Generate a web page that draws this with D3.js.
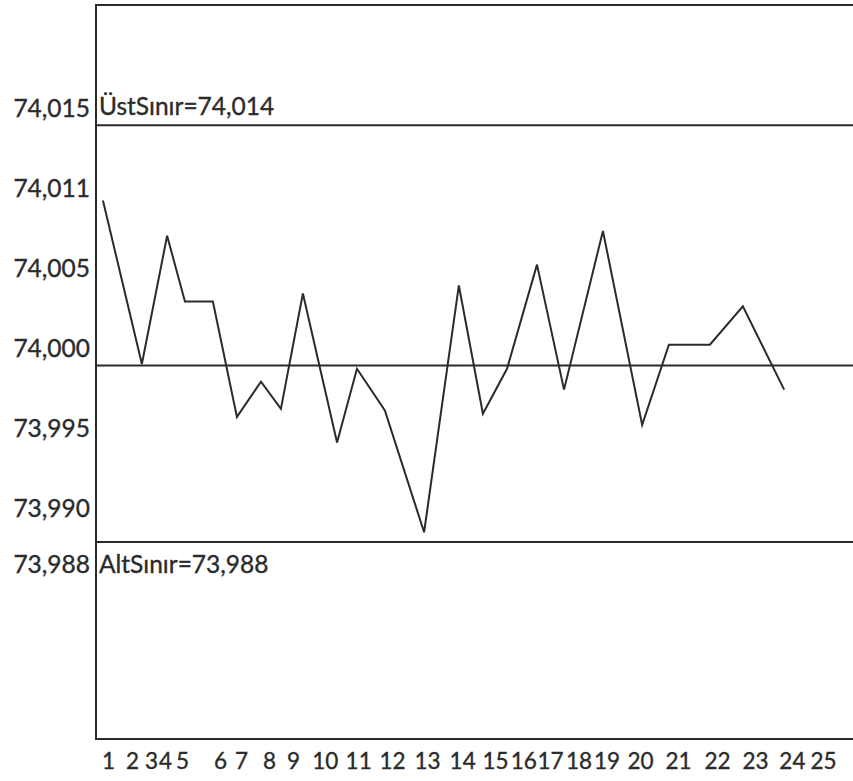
<!DOCTYPE html>
<html>
<head>
<meta charset="utf-8">
<script src="https://cdnjs.cloudflare.com/ajax/libs/d3/7.8.5/d3.min.js"></script>
<style>
  html, body { margin: 0; padding: 0; background: #fff; }
  svg { display: block; }
  text { font-family: Lato, "Open Sans", sans-serif; fill: #2b2b2b; stroke: #2b2b2b; stroke-width: 0.35px; }
</style>
</head>
<body>
<svg id="chart" width="853" height="781"></svg>
<script>
// Sample measurements (mm) in order of collection
const measurements = [
  74.0093, 73.9991, 74.0071, 74.0030, 74.0030, 73.9958, 73.9980, 73.9963,
  74.0035, 73.9942, 73.9988, 73.9962, 73.9886, 74.0040, 73.9960, 73.9988,
  74.0053, 73.9975, 74.0074, 73.9953, 74.0003, 74.0003, 74.0027, 73.9975
];
// Where each sample sits along the horizontal axis
const sampleAt = [
  0.83, 2.14, 2.99, 3.59, 4.53, 5.34, 6.15, 6.82,
  7.56, 8.71, 9.38, 10.32, 11.64, 12.81, 13.62, 14.43,
  15.44, 16.35, 17.66, 18.98, 19.88, 21.26, 22.37, 23.76
];

// Control limits
const upperLimit = 74.014;
const centerLine = 73.999;
const lowerLimit = 73.988;

// Axis labels
const xLabels = ["1","2","3","4","5","6","7","8","9","10","11","12","13",
                 "14","15","16","17","18","19","20","21","22","23","24","25"];
const xLabelAt = [
  1.00, 1.81, 2.45, 2.92, 3.49, 4.77, 5.48, 6.42, 7.23, 8.30, 9.42, 10.56, 11.74,
  12.92, 14.03, 14.98, 15.88, 16.84, 17.78, 18.91, 20.19, 21.50, 22.78, 24.02, 25.07
];
const yTicks = [74.015, 74.010, 74.005, 74.000, 73.995, 73.990];
const yLabels = ["74,015", "74,011", "74,005", "74,000", "73,995", "73,990"];

const plot = { left: 96, top: 5, right: 853, bottom: 739 };
const fontSize = 24.5;
const tickFontSize = 22.5;
const ink = "#2b2b2b";

const svg = d3.select("#chart");

const x = d3.scaleLinear().domain([1, 25]).range([108, 821]);
const y = d3.scaleLinear().domain([73.9757, 74.0215]).range([plot.bottom, plot.top]);

// Frame: left, top and bottom edges
svg.append("path")
  .attr("d", `M${plot.right},${plot.top}H${plot.left}V${plot.bottom}H${plot.right}`)
  .attr("fill", "none")
  .attr("stroke", ink)
  .attr("stroke-width", 2);

// Control limit lines
[upperLimit, centerLine, lowerLimit].forEach(v => {
  svg.append("line")
    .attr("x1", plot.left).attr("x2", plot.right)
    .attr("y1", y(v)).attr("y2", y(v))
    .attr("stroke", ink)
    .attr("stroke-width", 2);
});

// Measurement line
const line = d3.line()
  .x((d, i) => x(sampleAt[i]))
  .y(d => y(d));

svg.append("path")
  .datum(measurements)
  .attr("d", line)
  .attr("fill", "none")
  .attr("stroke", ink)
  .attr("stroke-width", 2)
  .attr("stroke-linejoin", "miter");

// Vertical axis labels
const yAxis = d3.axisLeft(y)
  .tickValues(yTicks)
  .tickFormat((d, i) => yLabels[i])
  .tickSize(0)
  .tickPadding(6);

const gy = svg.append("g")
  .attr("transform", `translate(${plot.left},0)`)
  .call(yAxis);
gy.select(".domain").remove();
gy.selectAll("text")
  .attr("dy", 7)
  .style("font-size", fontSize + "px")
  .attr("fill", ink);

// Horizontal axis labels
const xAxis = d3.axisBottom(x)
  .tickValues(xLabelAt)
  .tickFormat((d, i) => xLabels[i])
  .tickSize(0)
  .tickPadding(14);

const gx = svg.append("g")
  .attr("transform", `translate(0,${plot.bottom})`)
  .call(xAxis);
gx.select(".domain").remove();
gx.selectAll("text")
  .style("font-size", tickFontSize + "px")
  .attr("fill", ink);

// Limit annotations
const comma = v => d3.format(".3f")(v).replace(".", ",");

svg.append("text")
  .attr("x", plot.left + 3)
  .attr("y", y(upperLimit) - 10)
  .style("font-size", fontSize + "px")
  .text("ÜstSınır=" + comma(upperLimit));

svg.append("text")
  .attr("x", plot.left + 3)
  .attr("y", y(lowerLimit) + 31)
  .style("font-size", fontSize + "px")
  .text("AltSınır=" + comma(lowerLimit));

svg.append("text")
  .attr("x", plot.left - 6)
  .attr("y", y(lowerLimit) + 31)
  .attr("text-anchor", "end")
  .style("font-size", fontSize + "px")
  .text(comma(lowerLimit));
</script>
</body>
</html>
